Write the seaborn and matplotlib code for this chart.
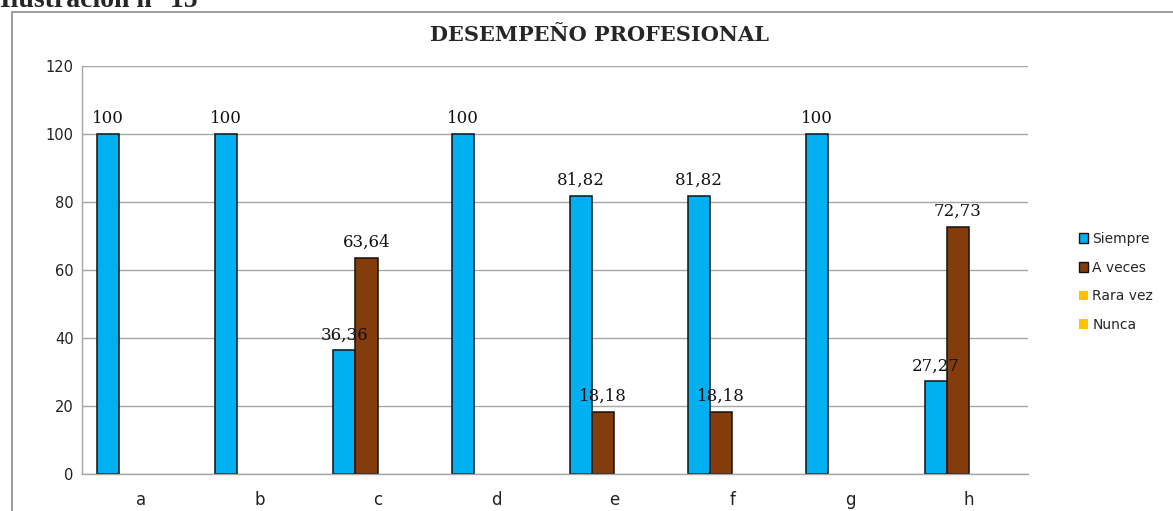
import matplotlib
matplotlib.use("Agg")
import matplotlib.pyplot as plt
import seaborn as sns
import pandas as pd
from matplotlib.patches import Rectangle, Patch

categories = ["a", "b", "c", "d", "e", "f", "g", "h"]
series = ["Siempre", "A veces", "Rara vez", "Nunca"]
siempre = [100, 100, 36.36, 100, 81.82, 81.82, 100, 27.27]
a_veces = [0, 0, 63.64, 0, 18.18, 18.18, 0, 72.73]
rara_vez = [0, 0, 0, 0, 0, 0, 0, 0]
nunca = [0, 0, 0, 0, 0, 0, 0, 0]
title = "DESEMPEÑO PROFESIONAL"
caption = "Ilustración n° 15"

colors = {"Siempre": "#00B0F0", "A veces": "#843C0C",
          "Rara vez": "#FFC000", "Nunca": "#FFC000"}

rows = []
for s, vals in zip(series, [siempre, a_veces, rara_vez, nunca]):
    for c, v in zip(categories, vals):
        rows.append({"cat": c, "serie": s, "valor": v})
df = pd.DataFrame(rows)

sns.set_theme(style="white")
plt.rcParams['font.family'] = ['DejaVu Sans']

fig = plt.figure(figsize=(11.73, 5.11), dpi=100)
ax = fig.add_axes([82/1173, 1-474/511, (1028-82)/1173, (474-66)/511])

sns.barplot(data=df, x="cat", y="valor", hue="serie", order=categories,
            hue_order=series, palette=colors, width=0.75, saturation=1,
            edgecolor="#111111", linewidth=1.1, legend=False, ax=ax)

for cont, s in zip(ax.containers, series):
    for p in cont:
        if p.get_height() == 0:
            p.set_linewidth(0)
            p.set_visible(False)
    labels = [("%.2f" % v).replace(".", ",").replace(",00", "") if v > 0 else "" for v in cont.datavalues]
    ax.bar_label(cont, labels=labels, padding=5, fontsize=12,
                 family="DejaVu Serif", color="#111111")

ax.set_ylim(0, 120)
ax.set_yticks(range(0, 121, 20))
ax.grid(axis="y", color="#a6a6a6", linewidth=1)
ax.set_axisbelow(True)
ax.set_xlabel("")
ax.set_ylabel("")
for side in ["top", "right"]:
    ax.spines[side].set_visible(False)
for side in ["left", "bottom"]:
    ax.spines[side].set_color("#a6a6a6")
    ax.spines[side].set_linewidth(1)
ax.tick_params(axis="y", labelsize=10.5, pad=6, colors="#222222", length=0)
ax.tick_params(axis="x", labelsize=12, pad=12, colors="#222222", length=0)

handles = [Patch(facecolor=colors[s], edgecolor="#111111" if i < 2 else colors[s],
                 linewidth=1 if i < 2 else 0) for i, s in enumerate(series)]
fig.legend(handles, series, loc="center left", bbox_to_anchor=(1066/1173, 1-282/511),
           frameon=False, fontsize=10, handlelength=0.7, handleheight=0.7,
           handletextpad=0.3, labelspacing=1.05)

fig.text(600/1173, 1-35/511, title, ha="center", va="center",
         fontsize=15, fontweight="bold", family="DejaVu Serif")
fig.text(0.0, 1 - 7/511, caption, ha="left", va="baseline",
         fontsize=20, fontweight="bold", family="Liberation Serif")

fig.patches.append(Rectangle((12/1173, -0.05), 1.2, 1.05 - 12/511,
                             transform=fig.transFigure, fill=False,
                             edgecolor="#8c8c8c", linewidth=1.2))

fig.savefig("out.png", dpi=100)
